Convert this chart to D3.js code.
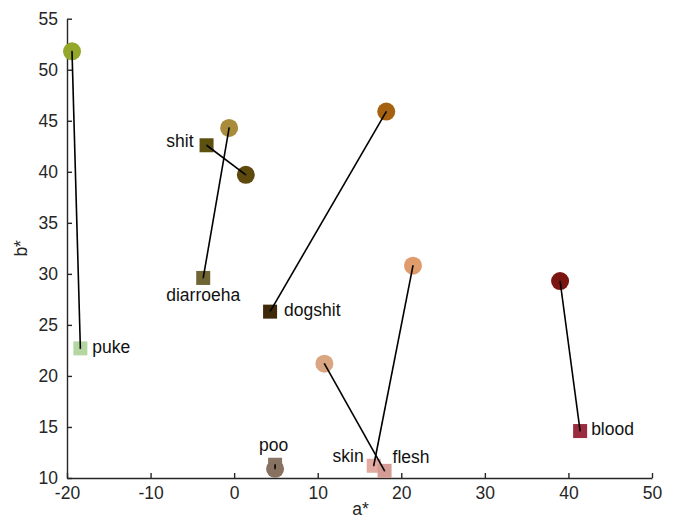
<!DOCTYPE html>
<html>
<head>
<meta charset="utf-8">
<script src="https://cdn.jsdelivr.net/npm/d3@7"></script>
<style>
  html, body { margin: 0; padding: 0; background: #fff; }
  svg { display: block; font-family: "Liberation Sans", Arial, Helvetica, sans-serif; }
</style>
</head>
<body>
<svg id="chart" width="677" height="521"></svg>
<script>
// ---- data ----
const names = ["puke", "shit", "diarroeha", "dogshit", "poo", "skin", "flesh", "blood"];
// square markers (labelled word colours)
const squareA = [-18.4, -3.3, -3.7, 4.3, 4.9, 16.7, 18.0, 41.4];
const squareB = [22.7, 42.6, 29.6, 26.3, 11.3, 11.2, 10.7, 14.6];
// circle markers (paired colours)
const circleA = [-19.4, 1.4, -0.6, 18.2, 4.9, 21.4, 10.8, 39.0];
const circleB = [51.8, 39.7, 44.3, 45.9, 10.9, 30.8, 21.2, 29.3];
const squareColors = ["#b4d7a1", "#5d5110", "#6f6535", "#3e2908", "#8b7565", "#e3aaa2", "#d49c95", "#9b2b3e"];
const circleColors = ["#94a72b", "#5e4a0c", "#a88c3c", "#a5610f", "#877161", "#e09b6d", "#daa681", "#7b1512"];
const xTicks = [-20, -10, 0, 10, 20, 30, 40, 50];
const yTicks = [10, 15, 20, 25, 30, 35, 40, 45, 50, 55];
const xLabel = "a*";
const yLabel = "b*";

// ---- layout / style ----
const svg = d3.select("#chart");
const fontSize = 17.5;
const ink = "#262626";
const x = d3.scaleLinear().domain([-20, 50]).range([67, 652]);
const y = d3.scaleLinear().domain([10, 55]).range([478, 18.7]);

// label placement: [anchor, dx, dy]
const labelPlace = {
  puke: ["start", 12, 4.5],
  shit: ["end", -13, 1.5],
  diarroeha: ["middle", 0, 23],
  dogshit: ["start", 14, 4],
  poo: ["middle", -1.5, -14],
  skin: ["end", -10, -4],
  flesh: ["start", 8, -8],
  blood: ["start", 11, 3.5]
};

const pts = names.map((n, i) => ({
  name: n, sa: squareA[i], sb: squareB[i], ca: circleA[i], cb: circleB[i],
  sc: squareColors[i], cc: circleColors[i]
}));

// axes
const gx = svg.append("g").attr("transform", `translate(0,${y(10)})`)
  .call(d3.axisBottom(x).tickValues(xTicks).tickSizeInner(-5).tickSizeOuter(0).tickPadding(9).tickFormat(d3.format("d")));
const gy = svg.append("g").attr("transform", `translate(${x(-20)},0)`)
  .call(d3.axisLeft(y).tickValues(yTicks).tickSizeInner(-5).tickSizeOuter(0).tickPadding(9).tickFormat(d3.format("d")));
[gx, gy].forEach(g => {
  g.select(".domain").attr("stroke", ink).attr("stroke-width", 1.4);
  g.selectAll(".tick line").attr("stroke", ink).attr("stroke-width", 1.4);
  g.selectAll(".tick text").attr("fill", ink).style("font-size", fontSize + "px")
    .style("font-family", '"Liberation Sans", Arial, Helvetica, sans-serif');
});
gx.selectAll(".tick text").text(d => d < 0 ? "-" + Math.abs(d) : d);

svg.append("text").attr("x", (x(-20) + x(50)) / 2 + 1).attr("y", 515)
  .attr("text-anchor", "middle").attr("fill", ink).style("font-size", fontSize + "px").text(xLabel);
svg.append("text").attr("transform", `translate(27,${(y(10) + y(55)) / 2}) rotate(-90)`)
  .attr("text-anchor", "middle").attr("fill", ink).style("font-size", fontSize + "px").text(yLabel);

// markers
const side = 14, r = 9;
svg.append("g").selectAll("rect").data(pts).join("rect")
  .attr("x", d => x(d.sa) - side / 2).attr("y", d => y(d.sb) - side / 2)
  .attr("width", side).attr("height", side).attr("fill", d => d.sc);
svg.append("g").selectAll("circle").data(pts).join("circle")
  .attr("cx", d => x(d.ca)).attr("cy", d => y(d.cb)).attr("r", r).attr("fill", d => d.cc);
// connecting lines
svg.append("g").selectAll("line").data(pts).join("line")
  .attr("x1", d => x(d.sa)).attr("y1", d => y(d.sb))
  .attr("x2", d => x(d.ca)).attr("y2", d => y(d.cb))
  .attr("stroke", "#000").attr("stroke-width", 1.6);
// centre dots
const dots = svg.append("g");
pts.forEach(d => {
  dots.append("circle").attr("cx", x(d.sa)).attr("cy", y(d.sb)).attr("r", 0.8).attr("fill", "#222");
  dots.append("circle").attr("cx", x(d.ca)).attr("cy", y(d.cb)).attr("r", 0.8).attr("fill", "#222");
});
// labels
svg.append("g").selectAll("text").data(pts).join("text")
  .attr("x", d => x(d.sa) + labelPlace[d.name][1])
  .attr("y", d => y(d.sb) + labelPlace[d.name][2])
  .attr("text-anchor", d => labelPlace[d.name][0])
  .attr("fill", "#111").style("font-size", fontSize + "px")
  .text(d => d.name);
</script>
</body>
</html>
